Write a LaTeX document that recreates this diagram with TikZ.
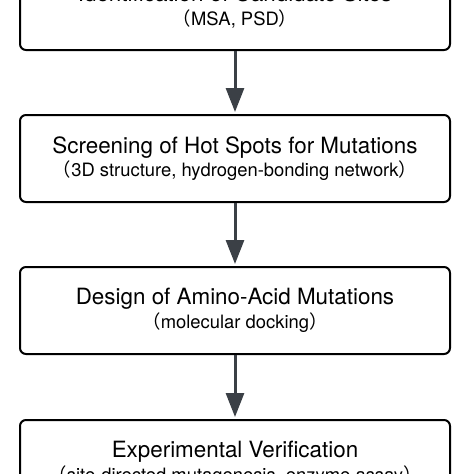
\documentclass[tikz,border=0pt]{standalone}
\usepackage{fontspec}
\usepackage{tikz}
\usetikzlibrary{positioning, arrows.meta}
\setmainfont{TeX Gyre Heros}
\newfontfamily\cjk{Noto Sans CJK SC}
\newcommand{\paren}[1]{{\fontsize{18.4}{23}\selectfont{\cjk （}#1{\cjk ）}}}
\definecolor{arrowgray}{HTML}{3B4046}

\begin{document}
\begin{tikzpicture}
[
x=1pt, y=1pt,
stage/.style={draw=black, line width=2pt, rounded corners=6pt,
	minimum width=430pt, minimum height=87pt, inner sep=0pt,
	align=center, font=\fontsize{22.4}{23.5}\selectfont},
flow/.style={arrowgray, line width=3pt, shorten >=2pt,
	-{Triangle[width=18pt, length=24pt]}}]
\useasboundingbox (0,0) rectangle (474,-474);
\node[stage] (sites) at (235,-6.5) {Identification of Candidate Sites\\
	\paren{MSA, PSD}};
\node[stage, below=63pt of sites] (hotspots) {Screening of Hot Spots for Mutations\\
	\paren{3D structure, hydrogen-bonding network}};
\node[stage, below=63pt of hotspots] (design) {Design of Amino-Acid Mutations\\
	\paren{molecular docking}};
\node[stage, below=64pt of design] (verify) {Experimental Verification\\
	\paren{site-directed mutagenesis, enzyme assay}};
\draw[flow] (sites) -- (hotspots);
\draw[flow] (hotspots) -- (design);
\draw[flow] (design) -- (verify);
\end{tikzpicture}
\end{document}
